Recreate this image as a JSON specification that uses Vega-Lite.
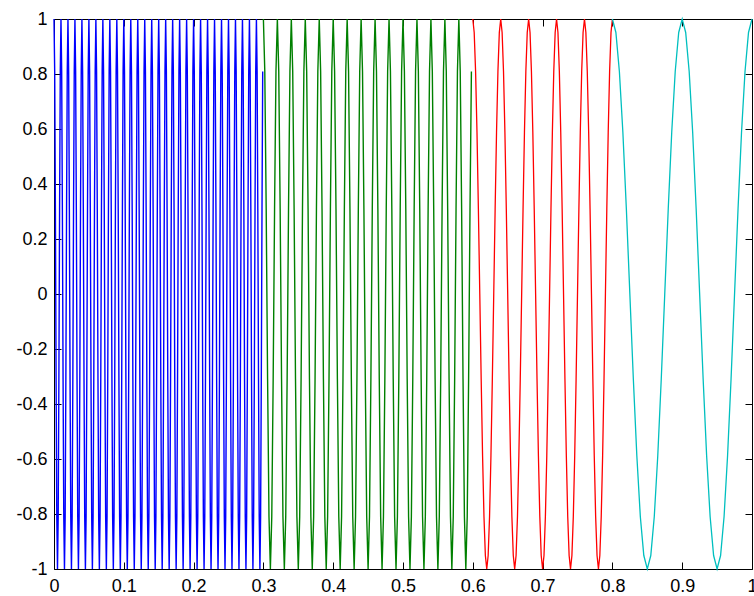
{
"$schema":"https://vega.github.io/schema/vega-lite/v6.json",
"width":698,"height":550,
"autosize":{"type":"none"},
"padding":{"left":54,"top":19,"right":2,"bottom":27},
"background":"white",
"config":{"view":{"stroke":"black","strokeWidth":1},
"axis":{"domain":false,"grid":false,"tickColor":"black","tickSize":-7,"tickWidth":1,"labelFont":"Liberation Sans","labelFontSize":18,"labelColor":"black","labelFlush":false,"labelOverlap":false}},
"datasets":{
"b":[
{"x":0.000,"y":1},{"x":0.001,"y":0.809},{"x":0.002,"y":0.309},{"x":0.003,"y":-0.309},{"x":0.004,"y":-0.809},{"x":0.005,"y":-1},{"x":0.006,"y":-0.809},{"x":0.007,"y":-0.309},{"x":0.008,"y":0.309},{"x":0.009,"y":0.809},
{"x":0.010,"y":1},{"x":0.011,"y":0.809},{"x":0.012,"y":0.309},{"x":0.013,"y":-0.309},{"x":0.014,"y":-0.809},{"x":0.015,"y":-1},{"x":0.016,"y":-0.809},{"x":0.017,"y":-0.309},{"x":0.018,"y":0.309},{"x":0.019,"y":0.809},
{"x":0.020,"y":1},{"x":0.021,"y":0.809},{"x":0.022,"y":0.309},{"x":0.023,"y":-0.309},{"x":0.024,"y":-0.809},{"x":0.025,"y":-1},{"x":0.026,"y":-0.809},{"x":0.027,"y":-0.309},{"x":0.028,"y":0.309},{"x":0.029,"y":0.809},
{"x":0.030,"y":1},{"x":0.031,"y":0.809},{"x":0.032,"y":0.309},{"x":0.033,"y":-0.309},{"x":0.034,"y":-0.809},{"x":0.035,"y":-1},{"x":0.036,"y":-0.809},{"x":0.037,"y":-0.309},{"x":0.038,"y":0.309},{"x":0.039,"y":0.809},
{"x":0.040,"y":1},{"x":0.041,"y":0.809},{"x":0.042,"y":0.309},{"x":0.043,"y":-0.309},{"x":0.044,"y":-0.809},{"x":0.045,"y":-1},{"x":0.046,"y":-0.809},{"x":0.047,"y":-0.309},{"x":0.048,"y":0.309},{"x":0.049,"y":0.809},
{"x":0.050,"y":1},{"x":0.051,"y":0.809},{"x":0.052,"y":0.309},{"x":0.053,"y":-0.309},{"x":0.054,"y":-0.809},{"x":0.055,"y":-1},{"x":0.056,"y":-0.809},{"x":0.057,"y":-0.309},{"x":0.058,"y":0.309},{"x":0.059,"y":0.809},
{"x":0.060,"y":1},{"x":0.061,"y":0.809},{"x":0.062,"y":0.309},{"x":0.063,"y":-0.309},{"x":0.064,"y":-0.809},{"x":0.065,"y":-1},{"x":0.066,"y":-0.809},{"x":0.067,"y":-0.309},{"x":0.068,"y":0.309},{"x":0.069,"y":0.809},
{"x":0.070,"y":1},{"x":0.071,"y":0.809},{"x":0.072,"y":0.309},{"x":0.073,"y":-0.309},{"x":0.074,"y":-0.809},{"x":0.075,"y":-1},{"x":0.076,"y":-0.809},{"x":0.077,"y":-0.309},{"x":0.078,"y":0.309},{"x":0.079,"y":0.809},
{"x":0.080,"y":1},{"x":0.081,"y":0.809},{"x":0.082,"y":0.309},{"x":0.083,"y":-0.309},{"x":0.084,"y":-0.809},{"x":0.085,"y":-1},{"x":0.086,"y":-0.809},{"x":0.087,"y":-0.309},{"x":0.088,"y":0.309},{"x":0.089,"y":0.809},
{"x":0.090,"y":1},{"x":0.091,"y":0.809},{"x":0.092,"y":0.309},{"x":0.093,"y":-0.309},{"x":0.094,"y":-0.809},{"x":0.095,"y":-1},{"x":0.096,"y":-0.809},{"x":0.097,"y":-0.309},{"x":0.098,"y":0.309},{"x":0.099,"y":0.809},
{"x":0.100,"y":1},{"x":0.101,"y":0.809},{"x":0.102,"y":0.309},{"x":0.103,"y":-0.309},{"x":0.104,"y":-0.809},{"x":0.105,"y":-1},{"x":0.106,"y":-0.809},{"x":0.107,"y":-0.309},{"x":0.108,"y":0.309},{"x":0.109,"y":0.809},
{"x":0.110,"y":1},{"x":0.111,"y":0.809},{"x":0.112,"y":0.309},{"x":0.113,"y":-0.309},{"x":0.114,"y":-0.809},{"x":0.115,"y":-1},{"x":0.116,"y":-0.809},{"x":0.117,"y":-0.309},{"x":0.118,"y":0.309},{"x":0.119,"y":0.809},
{"x":0.120,"y":1},{"x":0.121,"y":0.809},{"x":0.122,"y":0.309},{"x":0.123,"y":-0.309},{"x":0.124,"y":-0.809},{"x":0.125,"y":-1},{"x":0.126,"y":-0.809},{"x":0.127,"y":-0.309},{"x":0.128,"y":0.309},{"x":0.129,"y":0.809},
{"x":0.130,"y":1},{"x":0.131,"y":0.809},{"x":0.132,"y":0.309},{"x":0.133,"y":-0.309},{"x":0.134,"y":-0.809},{"x":0.135,"y":-1},{"x":0.136,"y":-0.809},{"x":0.137,"y":-0.309},{"x":0.138,"y":0.309},{"x":0.139,"y":0.809},
{"x":0.140,"y":1},{"x":0.141,"y":0.809},{"x":0.142,"y":0.309},{"x":0.143,"y":-0.309},{"x":0.144,"y":-0.809},{"x":0.145,"y":-1},{"x":0.146,"y":-0.809},{"x":0.147,"y":-0.309},{"x":0.148,"y":0.309},{"x":0.149,"y":0.809},
{"x":0.150,"y":1},{"x":0.151,"y":0.809},{"x":0.152,"y":0.309},{"x":0.153,"y":-0.309},{"x":0.154,"y":-0.809},{"x":0.155,"y":-1},{"x":0.156,"y":-0.809},{"x":0.157,"y":-0.309},{"x":0.158,"y":0.309},{"x":0.159,"y":0.809},
{"x":0.160,"y":1},{"x":0.161,"y":0.809},{"x":0.162,"y":0.309},{"x":0.163,"y":-0.309},{"x":0.164,"y":-0.809},{"x":0.165,"y":-1},{"x":0.166,"y":-0.809},{"x":0.167,"y":-0.309},{"x":0.168,"y":0.309},{"x":0.169,"y":0.809},
{"x":0.170,"y":1},{"x":0.171,"y":0.809},{"x":0.172,"y":0.309},{"x":0.173,"y":-0.309},{"x":0.174,"y":-0.809},{"x":0.175,"y":-1},{"x":0.176,"y":-0.809},{"x":0.177,"y":-0.309},{"x":0.178,"y":0.309},{"x":0.179,"y":0.809},
{"x":0.180,"y":1},{"x":0.181,"y":0.809},{"x":0.182,"y":0.309},{"x":0.183,"y":-0.309},{"x":0.184,"y":-0.809},{"x":0.185,"y":-1},{"x":0.186,"y":-0.809},{"x":0.187,"y":-0.309},{"x":0.188,"y":0.309},{"x":0.189,"y":0.809},
{"x":0.190,"y":1},{"x":0.191,"y":0.809},{"x":0.192,"y":0.309},{"x":0.193,"y":-0.309},{"x":0.194,"y":-0.809},{"x":0.195,"y":-1},{"x":0.196,"y":-0.809},{"x":0.197,"y":-0.309},{"x":0.198,"y":0.309},{"x":0.199,"y":0.809},
{"x":0.200,"y":1},{"x":0.201,"y":0.809},{"x":0.202,"y":0.309},{"x":0.203,"y":-0.309},{"x":0.204,"y":-0.809},{"x":0.205,"y":-1},{"x":0.206,"y":-0.809},{"x":0.207,"y":-0.309},{"x":0.208,"y":0.309},{"x":0.209,"y":0.809},
{"x":0.210,"y":1},{"x":0.211,"y":0.809},{"x":0.212,"y":0.309},{"x":0.213,"y":-0.309},{"x":0.214,"y":-0.809},{"x":0.215,"y":-1},{"x":0.216,"y":-0.809},{"x":0.217,"y":-0.309},{"x":0.218,"y":0.309},{"x":0.219,"y":0.809},
{"x":0.220,"y":1},{"x":0.221,"y":0.809},{"x":0.222,"y":0.309},{"x":0.223,"y":-0.309},{"x":0.224,"y":-0.809},{"x":0.225,"y":-1},{"x":0.226,"y":-0.809},{"x":0.227,"y":-0.309},{"x":0.228,"y":0.309},{"x":0.229,"y":0.809},
{"x":0.230,"y":1},{"x":0.231,"y":0.809},{"x":0.232,"y":0.309},{"x":0.233,"y":-0.309},{"x":0.234,"y":-0.809},{"x":0.235,"y":-1},{"x":0.236,"y":-0.809},{"x":0.237,"y":-0.309},{"x":0.238,"y":0.309},{"x":0.239,"y":0.809},
{"x":0.240,"y":1},{"x":0.241,"y":0.809},{"x":0.242,"y":0.309},{"x":0.243,"y":-0.309},{"x":0.244,"y":-0.809},{"x":0.245,"y":-1},{"x":0.246,"y":-0.809},{"x":0.247,"y":-0.309},{"x":0.248,"y":0.309},{"x":0.249,"y":0.809},
{"x":0.250,"y":1},{"x":0.251,"y":0.809},{"x":0.252,"y":0.309},{"x":0.253,"y":-0.309},{"x":0.254,"y":-0.809},{"x":0.255,"y":-1},{"x":0.256,"y":-0.809},{"x":0.257,"y":-0.309},{"x":0.258,"y":0.309},{"x":0.259,"y":0.809},
{"x":0.260,"y":1},{"x":0.261,"y":0.809},{"x":0.262,"y":0.309},{"x":0.263,"y":-0.309},{"x":0.264,"y":-0.809},{"x":0.265,"y":-1},{"x":0.266,"y":-0.809},{"x":0.267,"y":-0.309},{"x":0.268,"y":0.309},{"x":0.269,"y":0.809},
{"x":0.270,"y":1},{"x":0.271,"y":0.809},{"x":0.272,"y":0.309},{"x":0.273,"y":-0.309},{"x":0.274,"y":-0.809},{"x":0.275,"y":-1},{"x":0.276,"y":-0.809},{"x":0.277,"y":-0.309},{"x":0.278,"y":0.309},{"x":0.279,"y":0.809},
{"x":0.280,"y":1},{"x":0.281,"y":0.809},{"x":0.282,"y":0.309},{"x":0.283,"y":-0.309},{"x":0.284,"y":-0.809},{"x":0.285,"y":-1},{"x":0.286,"y":-0.809},{"x":0.287,"y":-0.309},{"x":0.288,"y":0.309},{"x":0.289,"y":0.809},
{"x":0.290,"y":1},{"x":0.291,"y":0.809},{"x":0.292,"y":0.309},{"x":0.293,"y":-0.309},{"x":0.294,"y":-0.809},{"x":0.295,"y":-1},{"x":0.296,"y":-0.809},{"x":0.297,"y":-0.309},{"x":0.298,"y":0.309},{"x":0.299,"y":0.809}
],
"g":[
{"x":0.300,"y":1},{"x":0.302,"y":0.809},{"x":0.304,"y":0.309},{"x":0.306,"y":-0.309},{"x":0.308,"y":-0.809},{"x":0.310,"y":-1},{"x":0.312,"y":-0.809},{"x":0.314,"y":-0.309},{"x":0.316,"y":0.309},{"x":0.318,"y":0.809},
{"x":0.320,"y":1},{"x":0.322,"y":0.809},{"x":0.324,"y":0.309},{"x":0.326,"y":-0.309},{"x":0.328,"y":-0.809},{"x":0.330,"y":-1},{"x":0.332,"y":-0.809},{"x":0.334,"y":-0.309},{"x":0.336,"y":0.309},{"x":0.338,"y":0.809},
{"x":0.340,"y":1},{"x":0.342,"y":0.809},{"x":0.344,"y":0.309},{"x":0.346,"y":-0.309},{"x":0.348,"y":-0.809},{"x":0.350,"y":-1},{"x":0.352,"y":-0.809},{"x":0.354,"y":-0.309},{"x":0.356,"y":0.309},{"x":0.358,"y":0.809},
{"x":0.360,"y":1},{"x":0.362,"y":0.809},{"x":0.364,"y":0.309},{"x":0.366,"y":-0.309},{"x":0.368,"y":-0.809},{"x":0.370,"y":-1},{"x":0.372,"y":-0.809},{"x":0.374,"y":-0.309},{"x":0.376,"y":0.309},{"x":0.378,"y":0.809},
{"x":0.380,"y":1},{"x":0.382,"y":0.809},{"x":0.384,"y":0.309},{"x":0.386,"y":-0.309},{"x":0.388,"y":-0.809},{"x":0.390,"y":-1},{"x":0.392,"y":-0.809},{"x":0.394,"y":-0.309},{"x":0.396,"y":0.309},{"x":0.398,"y":0.809},
{"x":0.400,"y":1},{"x":0.402,"y":0.809},{"x":0.404,"y":0.309},{"x":0.406,"y":-0.309},{"x":0.408,"y":-0.809},{"x":0.410,"y":-1},{"x":0.412,"y":-0.809},{"x":0.414,"y":-0.309},{"x":0.416,"y":0.309},{"x":0.418,"y":0.809},
{"x":0.420,"y":1},{"x":0.422,"y":0.809},{"x":0.424,"y":0.309},{"x":0.426,"y":-0.309},{"x":0.428,"y":-0.809},{"x":0.430,"y":-1},{"x":0.432,"y":-0.809},{"x":0.434,"y":-0.309},{"x":0.436,"y":0.309},{"x":0.438,"y":0.809},
{"x":0.440,"y":1},{"x":0.442,"y":0.809},{"x":0.444,"y":0.309},{"x":0.446,"y":-0.309},{"x":0.448,"y":-0.809},{"x":0.450,"y":-1},{"x":0.452,"y":-0.809},{"x":0.454,"y":-0.309},{"x":0.456,"y":0.309},{"x":0.458,"y":0.809},
{"x":0.460,"y":1},{"x":0.462,"y":0.809},{"x":0.464,"y":0.309},{"x":0.466,"y":-0.309},{"x":0.468,"y":-0.809},{"x":0.470,"y":-1},{"x":0.472,"y":-0.809},{"x":0.474,"y":-0.309},{"x":0.476,"y":0.309},{"x":0.478,"y":0.809},
{"x":0.480,"y":1},{"x":0.482,"y":0.809},{"x":0.484,"y":0.309},{"x":0.486,"y":-0.309},{"x":0.488,"y":-0.809},{"x":0.490,"y":-1},{"x":0.492,"y":-0.809},{"x":0.494,"y":-0.309},{"x":0.496,"y":0.309},{"x":0.498,"y":0.809},
{"x":0.500,"y":1},{"x":0.502,"y":0.809},{"x":0.504,"y":0.309},{"x":0.506,"y":-0.309},{"x":0.508,"y":-0.809},{"x":0.510,"y":-1},{"x":0.512,"y":-0.809},{"x":0.514,"y":-0.309},{"x":0.516,"y":0.309},{"x":0.518,"y":0.809},
{"x":0.520,"y":1},{"x":0.522,"y":0.809},{"x":0.524,"y":0.309},{"x":0.526,"y":-0.309},{"x":0.528,"y":-0.809},{"x":0.530,"y":-1},{"x":0.532,"y":-0.809},{"x":0.534,"y":-0.309},{"x":0.536,"y":0.309},{"x":0.538,"y":0.809},
{"x":0.540,"y":1},{"x":0.542,"y":0.809},{"x":0.544,"y":0.309},{"x":0.546,"y":-0.309},{"x":0.548,"y":-0.809},{"x":0.550,"y":-1},{"x":0.552,"y":-0.809},{"x":0.554,"y":-0.309},{"x":0.556,"y":0.309},{"x":0.558,"y":0.809},
{"x":0.560,"y":1},{"x":0.562,"y":0.809},{"x":0.564,"y":0.309},{"x":0.566,"y":-0.309},{"x":0.568,"y":-0.809},{"x":0.570,"y":-1},{"x":0.572,"y":-0.809},{"x":0.574,"y":-0.309},{"x":0.576,"y":0.309},{"x":0.578,"y":0.809},
{"x":0.580,"y":1},{"x":0.582,"y":0.809},{"x":0.584,"y":0.309},{"x":0.586,"y":-0.309},{"x":0.588,"y":-0.809},{"x":0.590,"y":-1},{"x":0.592,"y":-0.809},{"x":0.594,"y":-0.309},{"x":0.596,"y":0.309},{"x":0.598,"y":0.809}
],
"r":[
{"x":0.600,"y":1},{"x":0.602,"y":0.951},{"x":0.604,"y":0.809},{"x":0.606,"y":0.588},{"x":0.608,"y":0.309},{"x":0.610,"y":0},{"x":0.612,"y":-0.309},{"x":0.614,"y":-0.588},{"x":0.616,"y":-0.809},{"x":0.618,"y":-0.951},{"x":0.620,"y":-1},{"x":0.622,"y":-0.951},{"x":0.624,"y":-0.809},{"x":0.626,"y":-0.588},{"x":0.628,"y":-0.309},{"x":0.630,"y":0},{"x":0.632,"y":0.309},{"x":0.634,"y":0.588},{"x":0.636,"y":0.809},{"x":0.638,"y":0.951},
{"x":0.640,"y":1},{"x":0.642,"y":0.951},{"x":0.644,"y":0.809},{"x":0.646,"y":0.588},{"x":0.648,"y":0.309},{"x":0.650,"y":0},{"x":0.652,"y":-0.309},{"x":0.654,"y":-0.588},{"x":0.656,"y":-0.809},{"x":0.658,"y":-0.951},{"x":0.660,"y":-1},{"x":0.662,"y":-0.951},{"x":0.664,"y":-0.809},{"x":0.666,"y":-0.588},{"x":0.668,"y":-0.309},{"x":0.670,"y":0},{"x":0.672,"y":0.309},{"x":0.674,"y":0.588},{"x":0.676,"y":0.809},{"x":0.678,"y":0.951},
{"x":0.680,"y":1},{"x":0.682,"y":0.951},{"x":0.684,"y":0.809},{"x":0.686,"y":0.588},{"x":0.688,"y":0.309},{"x":0.690,"y":0},{"x":0.692,"y":-0.309},{"x":0.694,"y":-0.588},{"x":0.696,"y":-0.809},{"x":0.698,"y":-0.951},{"x":0.700,"y":-1},{"x":0.702,"y":-0.951},{"x":0.704,"y":-0.809},{"x":0.706,"y":-0.588},{"x":0.708,"y":-0.309},{"x":0.710,"y":0},{"x":0.712,"y":0.309},{"x":0.714,"y":0.588},{"x":0.716,"y":0.809},{"x":0.718,"y":0.951},
{"x":0.720,"y":1},{"x":0.722,"y":0.951},{"x":0.724,"y":0.809},{"x":0.726,"y":0.588},{"x":0.728,"y":0.309},{"x":0.730,"y":0},{"x":0.732,"y":-0.309},{"x":0.734,"y":-0.588},{"x":0.736,"y":-0.809},{"x":0.738,"y":-0.951},{"x":0.740,"y":-1},{"x":0.742,"y":-0.951},{"x":0.744,"y":-0.809},{"x":0.746,"y":-0.588},{"x":0.748,"y":-0.309},{"x":0.750,"y":0},{"x":0.752,"y":0.309},{"x":0.754,"y":0.588},{"x":0.756,"y":0.809},{"x":0.758,"y":0.951},
{"x":0.760,"y":1},{"x":0.762,"y":0.951},{"x":0.764,"y":0.809},{"x":0.766,"y":0.588},{"x":0.768,"y":0.309},{"x":0.770,"y":0},{"x":0.772,"y":-0.309},{"x":0.774,"y":-0.588},{"x":0.776,"y":-0.809},{"x":0.778,"y":-0.951},{"x":0.780,"y":-1},{"x":0.782,"y":-0.951},{"x":0.784,"y":-0.809},{"x":0.786,"y":-0.588},{"x":0.788,"y":-0.309},{"x":0.790,"y":0},{"x":0.792,"y":0.309},{"x":0.794,"y":0.588},{"x":0.796,"y":0.809},{"x":0.798,"y":0.951},
{"x":0.800,"y":1}
],
"c":[
{"x":0.800,"y":1},{"x":0.805,"y":0.951},{"x":0.810,"y":0.809},{"x":0.815,"y":0.588},{"x":0.820,"y":0.309},{"x":0.825,"y":0},{"x":0.830,"y":-0.309},{"x":0.835,"y":-0.588},{"x":0.840,"y":-0.809},{"x":0.845,"y":-0.951},{"x":0.850,"y":-1},{"x":0.855,"y":-0.951},{"x":0.860,"y":-0.809},{"x":0.865,"y":-0.588},{"x":0.870,"y":-0.309},{"x":0.875,"y":0},{"x":0.880,"y":0.309},{"x":0.885,"y":0.588},{"x":0.890,"y":0.809},{"x":0.895,"y":0.951},
{"x":0.900,"y":1},{"x":0.905,"y":0.951},{"x":0.910,"y":0.809},{"x":0.915,"y":0.588},{"x":0.920,"y":0.309},{"x":0.925,"y":0},{"x":0.930,"y":-0.309},{"x":0.935,"y":-0.588},{"x":0.940,"y":-0.809},{"x":0.945,"y":-0.951},{"x":0.950,"y":-1},{"x":0.955,"y":-0.951},{"x":0.960,"y":-0.809},{"x":0.965,"y":-0.588},{"x":0.970,"y":-0.309},{"x":0.975,"y":0},{"x":0.980,"y":0.309},{"x":0.985,"y":0.588},{"x":0.990,"y":0.809},{"x":0.995,"y":0.951},
{"x":1.000,"y":1}
]
},
"layer":[
{"data":{"name":"b"},"mark":{"type":"line","color":"#0000ff","strokeWidth":1.4},
 "encoding":{
  "x":{"field":"x","type":"quantitative","scale":{"domain":[0,1],"nice":false,"zero":false},
   "axis":{"orient":"bottom","title":null,"values":[0,0.1,0.2,0.3,0.4,0.5,0.6,0.7,0.8,0.9,1],"labelPadding":15,"labelExpr":"replace(format(datum.value,'.1~f'),'\u2212','-')"}},
  "y":{"field":"y","type":"quantitative","scale":{"domain":[-1,1],"nice":false,"zero":false},
   "axis":{"orient":"left","title":null,"values":[-1,-0.8,-0.6,-0.4,-0.2,0,0.2,0.4,0.6,0.8,1],"labelPadding":14,"labelExpr":"replace(format(datum.value,'.1~f'),'\u2212','-')"}}}},
{"data":{"name":"g"},"mark":{"type":"line","color":"#008000","strokeWidth":1.4},
 "encoding":{"x":{"field":"x","type":"quantitative","axis":null},"y":{"field":"y","type":"quantitative","axis":null}}},
{"data":{"name":"r"},"mark":{"type":"line","color":"#ff0000","strokeWidth":1.3},
 "encoding":{"x":{"field":"x","type":"quantitative","axis":null},"y":{"field":"y","type":"quantitative","axis":null}}},
{"data":{"name":"c"},"mark":{"type":"line","color":"#00bfbf","strokeWidth":1.3},
 "encoding":{"x":{"field":"x","type":"quantitative","axis":null},"y":{"field":"y","type":"quantitative","axis":null}}},
{"data":{"name":"c"},"mark":{"type":"point","opacity":0},
 "encoding":{
  "x":{"field":"x","type":"quantitative","axis":{"orient":"top","title":null,"labels":false,"values":[0,0.1,0.2,0.3,0.4,0.5,0.6,0.7,0.8,0.9,1]}},
  "y":{"field":"y","type":"quantitative","axis":{"orient":"right","title":null,"labels":false,"values":[-1,-0.8,-0.6,-0.4,-0.2,0,0.2,0.4,0.6,0.8,1]}}}}
],
"resolve":{"axis":{"x":"independent","y":"independent"}}
}
